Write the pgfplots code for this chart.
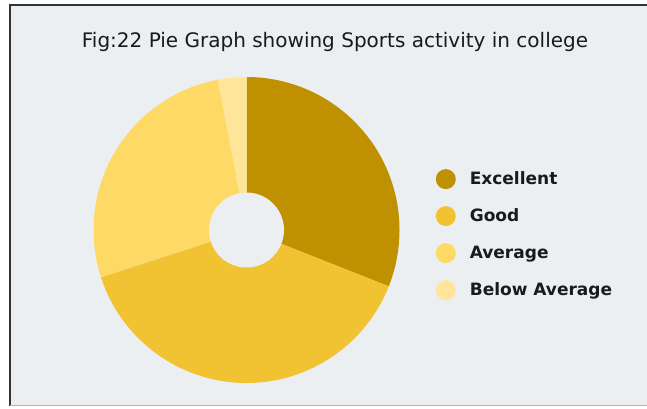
\documentclass[border=0pt]{standalone}
\usepackage{pgfplots}
\usepackage{pgfplotstable}
\pgfplotsset{compat=1.18}
\usepackage{fontspec}
\setmainfont{DejaVu Sans}
\definecolor{cEx}{HTML}{BF9000}
\definecolor{cGo}{HTML}{F1C232}
\definecolor{cAv}{HTML}{FFD966}
\definecolor{cBe}{HTML}{FFE599}
\definecolor{bg}{HTML}{ECEFF1}
\definecolor{txt}{HTML}{1A1A1A}

\pgfplotstableread[col sep=comma]{
label,value
Excellent,31
Good,39
Average,27
Below Average,3
}\pietable

\pgfplotstablegetelem{0}{value}\of\pietable\pgfmathsetmacro\vA{\pgfplotsretval}
\pgfplotstablegetelem{1}{value}\of\pietable\pgfmathsetmacro\vB{\pgfplotsretval}
\pgfplotstablegetelem{2}{value}\of\pietable\pgfmathsetmacro\vC{\pgfplotsretval}
\pgfplotstablegetelem{3}{value}\of\pietable\pgfmathsetmacro\vD{\pgfplotsretval}
\pgfmathsetmacro\tot{\vA+\vB+\vC+\vD}
\pgfmathsetmacro\aA{90}
\pgfmathsetmacro\aB{\aA-360*\vA/\tot}
\pgfmathsetmacro\aC{\aB-360*\vB/\tot}
\pgfmathsetmacro\aD{\aC-360*\vC/\tot}
\pgfmathsetmacro\aE{\aD-360*\vD/\tot}

\begin{document}
\begin{tikzpicture}[x=1pt,y=1pt]
\useasboundingbox (0,0) rectangle (647,408);
\fill[white] (0,0) rectangle (647,408);
\fill[bg] (10,2) rectangle (647,403);
\draw[black!80,line width=1.5pt] (10,2) -- (10,403) -- (647,403);
\draw[black!30,line width=1pt] (10,2.5) -- (647,2.5);
\node[txt,font=\fontsize{20}{24}\selectfont] at (335,366) {Fig:22 Pie Graph showing Sports activity in college};
\begin{axis}[
  at={(246.5pt,178pt)}, anchor=center,
  scale only axis, width=306pt, height=306pt,
  xmin=-1, xmax=1, ymin=-1, ymax=1,
  hide axis, clip=false,
  legend style={at={(1.118,0.485)}, anchor=west, draw=none, fill=none,
    font=\bfseries\fontsize{17}{20}\selectfont, text=txt,
    row sep=17pt, inner sep=0pt, column sep=12pt,
    cells={anchor=west}},
  legend image code/.code={\fill[#1] (10pt,0pt) circle (10pt);},
]
\addplot[fill=cEx, draw=none, domain=\aB:\aA, samples=120, variable=\t] ({cos(\t)},{sin(\t)}) -- (axis cs:0,0) -- cycle;
\addplot[fill=cGo, draw=none, domain=\aC:\aB, samples=120, variable=\t] ({cos(\t)},{sin(\t)}) -- (axis cs:0,0) -- cycle;
\addplot[fill=cAv, draw=none, domain=\aD:\aC, samples=120, variable=\t] ({cos(\t)},{sin(\t)}) -- (axis cs:0,0) -- cycle;
\addplot[fill=cBe, draw=none, domain=\aE:\aD, samples=40, variable=\t] ({cos(\t)},{sin(\t)}) -- (axis cs:0,0) -- cycle;
\addplot[fill=bg, draw=none, domain=0:360, samples=120, variable=\t, forget plot] ({0.245*cos(\t)},{0.245*sin(\t)}) -- cycle;
\legend{Excellent, Good, Average, Below Average}
\end{axis}
\end{tikzpicture}
\end{document}
